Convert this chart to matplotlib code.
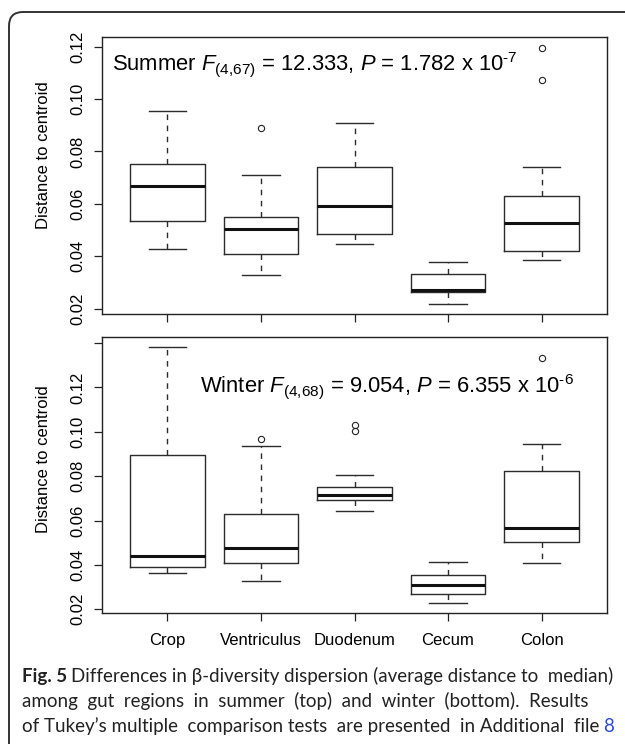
import matplotlib
matplotlib.use("Agg")
import matplotlib.pyplot as plt
import matplotlib.patches as mpatches
from matplotlib.transforms import IdentityTransform

plt.rcParams['font.family'] = ['Liberation Sans', 'DejaVu Sans']
plt.rcParams['mathtext.fontset'] = 'custom'
plt.rcParams['mathtext.rm'] = 'Liberation Sans'
plt.rcParams['mathtext.it'] = 'Liberation Sans:italic'
plt.rcParams['mathtext.bf'] = 'Liberation Sans:bold'

# Box statistics
categories = ['Crop', 'Ventriculus', 'Duodenum', 'Cecum', 'Colon']

summer_whislo = [0.0426, 0.0327, 0.0447, 0.0217, 0.0387]
summer_q1 = [0.0533, 0.0410, 0.0486, 0.0263, 0.0420]
summer_med = [0.0668, 0.0503, 0.0590, 0.0270, 0.0528]
summer_q3 = [0.0753, 0.0550, 0.0741, 0.0331, 0.0630]
summer_whishi = [0.0954, 0.0709, 0.0909, 0.0378, 0.0741]
summer_fliers = [[], [0.0888], [], [], [0.1073, 0.1196]]

winter_whislo = [0.0362, 0.0329, 0.0644, 0.0227, 0.0410]
winter_q1 = [0.0392, 0.0410, 0.0692, 0.0269, 0.0502]
winter_med = [0.0440, 0.0475, 0.0715, 0.0310, 0.0565]
winter_q3 = [0.0895, 0.0628, 0.0752, 0.0355, 0.0824]
winter_whishi = [0.1382, 0.0936, 0.0805, 0.0413, 0.0943]
winter_fliers = [[], [0.0966], [0.1002, 0.1028], [], [0.1331]]

summer_ticks = [0.02, 0.04, 0.06, 0.08, 0.10, 0.12]
winter_ticks = [0.02, 0.04, 0.06, 0.08, 0.10, 0.12, 0.14]
winter_ticklabels = ['0.02', '0.04', '0.06', '0.08', '0.10', '0.12', '']

summer_text = r'Summer $F_{\mathit{(4{,}67)}}$ = 12.333, $P$ = 1.782 x 10$^{\mathrm{‐7}}$'
winter_text = r'Winter $F_{\mathit{(4{,}68)}}$ = 9.054, $P$ = 6.355 x 10$^{\mathrm{‐6}}$'

caption_bold = 'Fig. 5'
caption_1 = 'Differences in β-diversity dispersion (average distance to median)'
caption_2 = 'among gut regions in summer (top) and winter (bottom). Results'
caption_3 = 'of Tukey’s multiple comparison tests are presented in Additional file'
caption_link = '8'


def make_stats(lo, q1, med, q3, hi, fl):
    return [dict(whislo=lo[i], q1=q1[i], med=med[i], q3=q3[i], whishi=hi[i],
                 fliers=fl[i], label=categories[i]) for i in range(len(categories))]


W, H = 625, 744
fig = plt.figure(figsize=(W / 100, H / 100), dpi=100)

ax1 = fig.add_axes([102 / W, 1 - 314 / H, 505 / W, 277 / H])
ax2 = fig.add_axes([102 / W, 1 - 613.3 / H, 505 / W, 276.6 / H])

box_kw = dict(
    widths=0.8, capwidths=0.4, patch_artist=False,
    boxprops=dict(color='#2b2b2b', lw=1.0),
    whiskerprops=dict(color='#2b2b2b', lw=1.0, linestyle=(0, (4, 4))),
    capprops=dict(color='#2b2b2b', lw=1.0),
    medianprops=dict(color='#111111', lw=2.2, solid_capstyle='butt'),
    flierprops=dict(marker='o', markerfacecolor='none', markeredgecolor='#222222',
                    markersize=4.5, markeredgewidth=0.8),
)

ax1.bxp(make_stats(summer_whislo, summer_q1, summer_med, summer_q3, summer_whishi,
                   summer_fliers), **box_kw)
ax2.bxp(make_stats(winter_whislo, winter_q1, winter_med, winter_q3, winter_whishi,
                   winter_fliers), **box_kw)

for ax in (ax1, ax2):
    ax.set_xlim(0.3, 5.7)
    for s in ax.spines.values():
        s.set_linewidth(1.0)
        s.set_color('#222222')
    ax.tick_params(axis='both', direction='out', length=6, width=0.9,
                   color='#222222', labelsize=12)
    ax.tick_params(axis='y', pad=6)

ax1.set_ylim(0.0179, 0.1237)
ax1.set_yticks(summer_ticks)
ax1.set_yticklabels([f'{t:.2f}' for t in summer_ticks], rotation=90, va='center')
ax1.set_xticklabels([])

ax2.set_ylim(0.0182, 0.1428)
ax2.set_yticks(winter_ticks)
ax2.set_yticklabels(winter_ticklabels, rotation=90, va='center')
ax2.set_xticklabels(categories)
ax2.tick_params(axis='x', pad=8)

fig.text(111.7 / W, 1 - 70 / H, summer_text, fontsize=15.8, va='baseline', ha='left')
fig.text(200 / W, 1 - 392 / H, winter_text, fontsize=15.8, va='baseline', ha='left')

fig.text(44 / W, 1 - 155 / H, 'Distance to centroid', rotation=90,
         ha='center', va='center', fontsize=12)
fig.text(44 / W, 1 - 459 / H, 'Distance to centroid', rotation=90,
         ha='center', va='center', fontsize=12)

# rounded frame (left and top edges visible)
frame = mpatches.FancyBboxPatch((9, -30), 700, H - 12 + 30, transform=IdentityTransform(),
                                boxstyle='round,pad=0,rounding_size=14',
                                fill=False, edgecolor='#333333', lw=1.4)
fig.patches.append(frame)

# caption: one text per line, word gaps widened evenly with a few extra spaces
cap_font = ['Lato', 'DejaVu Sans']
cap_size = 13.5
renderer = fig.canvas.get_renderer()


def cap_text(x, y, s, **kw):
    kw.setdefault('color', '#222222')
    return fig.text(x / W, 1 - y / H, s, family=cap_font, fontsize=cap_size,
                    va='baseline', ha='left', **kw)


def width_of(t):
    return t.get_window_extent(renderer).width


def padded(x, y, s, x_end):
    t = cap_text(x, y, s)
    probe = cap_text(0, 0, 'a  b')
    probe2 = cap_text(0, 0, 'a b')
    sw = width_of(probe) - width_of(probe2)
    probe.remove()
    probe2.remove()
    words = s.split(' ')
    gaps = len(words) - 1
    extra = int(round((x_end - x - width_of(t)) / sw))
    extra = max(0, min(extra, gaps))
    out = words[0]
    for i, w in enumerate(words[1:]):
        n = 1 + (extra * (i + 1)) // gaps - (extra * i) // gaps
        out += ' ' * n + w
    t.set_text(out)
    return t


x0 = 22
tb = cap_text(x0, 682, caption_bold, fontweight='bold')
wb = width_of(tb)
padded(x0 + wb + 4, 682, caption_1, 613)
padded(x0, 707, caption_2, 597)
tl = cap_text(0, 732, caption_link, color='#2d4bd8')
wl = width_of(tl)
t3 = padded(x0, 732, caption_3, 613 - wl - 4)
tl.set_x((x0 + width_of(t3) + 4) / W)

fig.savefig('out.png', dpi=100)
